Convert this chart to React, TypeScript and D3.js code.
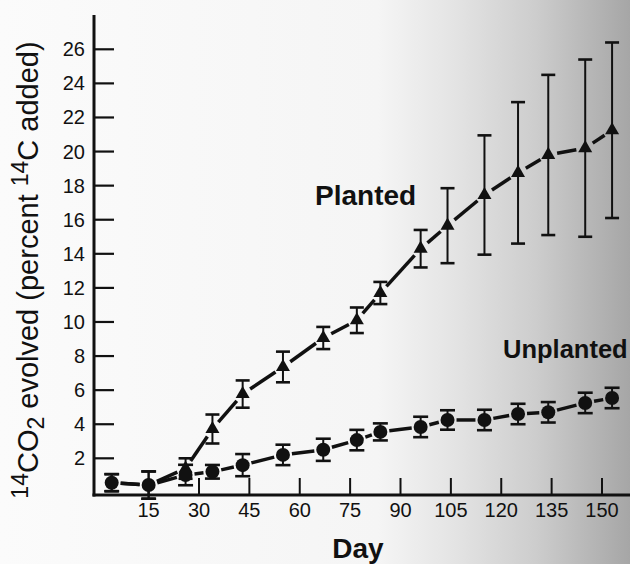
import React from 'react';
import * as d3 from 'd3';

const days = [4, 15, 26, 34, 43, 55, 67, 77, 84, 96, 104, 115, 125, 134, 145, 153];
const plantedMean = [0.57, 0.43, 1.4, 3.72, 5.77, 7.36, 9.06, 10.1, 11.7, 14.3, 15.65, 17.45, 18.75, 19.8, 20.2, 21.25];
const plantedErr = [0.5, 0.8, 0.6, 0.85, 0.8, 0.9, 0.65, 0.75, 0.65, 1.1, 2.2, 3.5, 4.15, 4.7, 5.2, 5.15];
const unplantedMean = [0.57, 0.43, 1.02, 1.21, 1.6, 2.2, 2.5, 3.07, 3.55, 3.84, 4.25, 4.25, 4.6, 4.7, 5.25, 5.54];
const unplantedErr = [0.5, 0.8, 0.6, 0.4, 0.65, 0.6, 0.65, 0.6, 0.5, 0.6, 0.57, 0.6, 0.6, 0.6, 0.6, 0.6];
const xTicks = [15, 30, 45, 60, 75, 90, 105, 120, 135, 150];
const yTicks = [2, 4, 6, 8, 10, 12, 14, 16, 18, 20, 22, 24, 26];

const W = 630;
const H = 564;
const FONT = '"Liberation Sans", Arial, Helvetica, sans-serif';
const INK = '#111';

const x = d3.scaleLinear().domain([0, 150]).range([98.25, 602]);
const y = d3.scaleLinear().domain([0, 26]).range([492.4, 49.3]);

const axisX = 94;
const axisY = 495;

function segments(vals: number[], gap: number) {
  const out: { x1: number; y1: number; x2: number; y2: number }[] = [];
  for (let i = 0; i < vals.length - 1; i++) {
    const ax = x(days[i]), ay = y(vals[i]);
    const bx = x(days[i + 1]), by = y(vals[i + 1]);
    const dx = bx - ax, dy = by - ay;
    const len = Math.hypot(dx, dy);
    if (len <= gap * 2) continue;
    const ux = dx / len, uy = dy / len;
    out.push({ x1: ax + ux * gap, y1: ay + uy * gap, x2: bx - ux * gap, y2: by - uy * gap });
  }
  return out;
}

const triangle = d3.symbol().type(d3.symbolTriangle).size(85);

export default function App() {
  const plantedSegs = segments(plantedMean, 9);
  const unplantedSegs = segments(unplantedMean, 9);
  const triPath = triangle() as string;

  return (
    <svg width={W} height={H} style={{ position: 'absolute', left: 0, top: 0, display: 'block' }}>
      <defs>
        <linearGradient id="paper" x1="0" y1="0" x2="1" y2="0">
          <stop offset="0" stopColor="#fbfbfb" />
          <stop offset="0.6" stopColor="#f5f5f5" />
          <stop offset="0.72" stopColor="#e4e4e4" />
          <stop offset="0.85" stopColor="#cdcdcd" />
          <stop offset="1" stopColor="#a6a6a6" />
        </linearGradient>
      </defs>
      <rect x={0} y={0} width={W} height={H} fill="url(#paper)" />

      {/* axes */}
      <line x1={axisX} y1={15} x2={axisX} y2={axisY + 1.5} stroke={INK} strokeWidth={3} />
      <line x1={axisX - 1.5} y1={axisY} x2={W} y2={axisY} stroke={INK} strokeWidth={3} />

      {yTicks.map((t) => (
        <g key={'y' + t}>
          <line x1={axisX} x2={axisX + 20} y1={y(t)} y2={y(t)} stroke={INK} strokeWidth={2.2} />
          <text x={85} y={y(t)} dy="0.35em" textAnchor="end" fontFamily={FONT} fontSize={20} fill={INK}>
            {t}
          </text>
        </g>
      ))}
      {xTicks.map((t) => (
        <g key={'x' + t}>
          <line x1={x(t)} x2={x(t)} y1={axisY} y2={axisY - 17} stroke={INK} strokeWidth={2} />
          <text x={x(t)} y={517} textAnchor="middle" fontFamily={FONT} fontSize={20} fill={INK}>
            {t}
          </text>
        </g>
      ))}

      {/* axis titles */}
      <text x={358} y={558} textAnchor="middle" fontFamily={FONT} fontSize={28} fontWeight="bold" fill={INK}>
        Day
      </text>
      <text transform="translate(38,270) rotate(-90)" textAnchor="middle" fontFamily={FONT} fontSize={29} fill={INK}>
        <tspan fontSize={23} dy={-10}>14</tspan>
        <tspan dy={10}>CO</tspan>
        <tspan fontSize={23} dy={6}>2</tspan>
        <tspan dy={-6}> evolved (percent </tspan>
        <tspan fontSize={23} dy={-10}>14</tspan>
        <tspan dy={10}>C added)</tspan>
      </text>

      {/* series labels */}
      <text x={315} y={205} fontFamily={FONT} fontSize={28} fontWeight="bold" fill={INK}>Planted</text>
      <text x={503} y={358} fontFamily={FONT} fontSize={25.5} fontWeight="bold" fill={INK}>Unplanted</text>

      {/* error bars */}
      {days.map((d, i) => (
        <g key={'pe' + i}>
          <line x1={x(d)} x2={x(d)} y1={y(plantedMean[i] - plantedErr[i])} y2={y(plantedMean[i] + plantedErr[i])} stroke={INK} strokeWidth={2} />
          <line x1={x(d) - 7} x2={x(d) + 7} y1={y(plantedMean[i] + plantedErr[i])} y2={y(plantedMean[i] + plantedErr[i])} stroke={INK} strokeWidth={2.6} />
          <line x1={x(d) - 7} x2={x(d) + 7} y1={y(plantedMean[i] - plantedErr[i])} y2={y(plantedMean[i] - plantedErr[i])} stroke={INK} strokeWidth={2.6} />
        </g>
      ))}
      {days.map((d, i) => (
        <g key={'ue' + i}>
          <line x1={x(d)} x2={x(d)} y1={y(unplantedMean[i] - unplantedErr[i])} y2={y(unplantedMean[i] + unplantedErr[i])} stroke={INK} strokeWidth={2} />
          <line x1={x(d) - 7.5} x2={x(d) + 7.5} y1={y(unplantedMean[i] + unplantedErr[i])} y2={y(unplantedMean[i] + unplantedErr[i])} stroke={INK} strokeWidth={2.6} />
          <line x1={x(d) - 7.5} x2={x(d) + 7.5} y1={y(unplantedMean[i] - unplantedErr[i])} y2={y(unplantedMean[i] - unplantedErr[i])} stroke={INK} strokeWidth={2.6} />
        </g>
      ))}

      {/* lines */}
      {plantedSegs.map((s, i) => (
        <line key={'ps' + i} {...s} stroke={INK} strokeWidth={3.5} />
      ))}
      {unplantedSegs.map((s, i) => (
        <line key={'us' + i} {...s} stroke={INK} strokeWidth={3.5} />
      ))}

      {/* markers */}
      {days.map((d, i) =>
        Math.abs(plantedMean[i] - unplantedMean[i]) < 0.1 ? null : (
          <path key={'pm' + i} d={triPath} transform={`translate(${x(d)},${y(plantedMean[i])})`} fill={INK} />
        )
      )}
      {days.map((d, i) => (
        <circle key={'um' + i} cx={x(d)} cy={y(unplantedMean[i])} r={7} fill={INK} />
      ))}
    </svg>
  );
}
